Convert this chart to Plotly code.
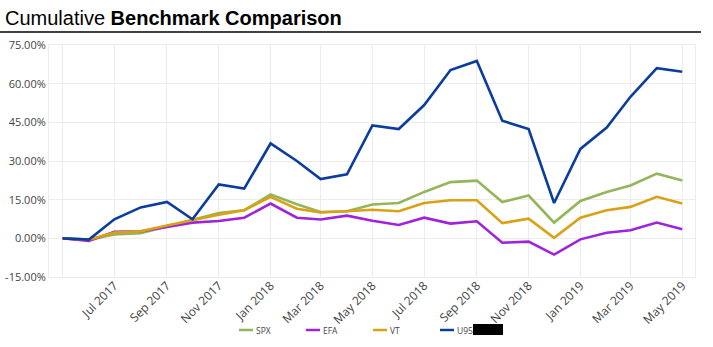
import plotly.graph_objects as go

dates = ["2017-05-01", "2017-06-01", "2017-07-01", "2017-08-01", "2017-09-01", "2017-10-01",
         "2017-11-01", "2017-12-01", "2018-01-01", "2018-02-01", "2018-03-01", "2018-04-01",
         "2018-05-01", "2018-06-01", "2018-07-01", "2018-08-01", "2018-09-01", "2018-10-01",
         "2018-11-01", "2018-12-01", "2019-01-01", "2019-02-01", "2019-03-01", "2019-04-01",
         "2019-05-01"]

spx = [0, -0.5, 1.5, 2.0, 4.6, 7.2, 9.8, 10.9, 17.0, 13.2, 10.2, 10.5, 13.1, 13.7, 18.0,
       21.8, 22.4, 14.1, 16.6, 6.1, 14.5, 18.0, 20.5, 25.1, 22.4]
efa = [0, -1.0, 2.5, 2.7, 4.4, 6.1, 6.7, 8.0, 13.5, 8.0, 7.3, 8.8, 6.8, 5.2, 8.0,
       5.7, 6.6, -1.7, -1.3, -6.3, -0.4, 2.2, 3.1, 6.1, 3.5]
vt = [0, -0.5, 2.2, 2.7, 5.0, 7.2, 9.2, 10.9, 16.1, 11.5, 10.0, 10.5, 11.1, 10.5, 13.7,
      14.8, 14.8, 5.9, 7.6, 0.2, 8.0, 10.9, 12.2, 16.1, 13.5]
u95 = [0, -0.5, 7.4, 12.0, 14.1, 7.4, 20.9, 19.3, 36.8, 30.0, 23.0, 24.8, 43.8, 42.4, 51.7,
       65.3, 68.8, 45.6, 42.4, 13.7, 34.7, 43.0, 54.9, 66.0, 64.6]

series_names = ["SPX", "EFA", "VT", "U95"]
series_colors = ["#94b55a", "#a023dc", "#d9a114", "#0b3d9e"]

tick_vals = ["2017-05-01", "2017-07-01", "2017-09-01", "2017-11-01", "2018-01-01", "2018-03-01",
             "2018-05-01", "2018-07-01", "2018-09-01", "2018-11-01", "2019-01-01", "2019-03-01",
             "2019-05-01"]
tick_text = ["", "Jul 2017", "Sep 2017", "Nov 2017", "Jan 2018", "Mar 2018", "May 2018",
             "Jul 2018", "Sep 2018", "Nov 2018", "Jan 2019", "Mar 2019", "May 2019"]
y_ticks = [-15, 0, 15, 30, 45, 60, 75]

W, H = 713, 347
L, R, T, B = 49, 18, 45, 70
pw, ph = W - L - R, H - T - B

def px_x(p):
    return (p - L) / pw

def px_y(p):
    return (H - B - p) / ph

fig = go.Figure()
for name, vals, col in zip(series_names, [spx, efa, vt, u95], series_colors):
    fig.add_trace(go.Scatter(x=dates, y=vals, mode="lines", name=name,
                             line=dict(color=col, width=2.6), showlegend=False))

# custom legend (short line swatches + labels)
legend_starts = [239, 306, 373, 440]
shapes = [
    dict(type="line", xref="paper", yref="paper", x0=px_x(0), x1=px_x(701),
         y0=px_y(32), y1=px_y(32), line=dict(color="#000", width=1.5)),
    dict(type="rect", xref="paper", yref="paper", x0=px_x(473), x1=px_x(503),
         y0=px_y(335), y1=px_y(324), fillcolor="#000", line=dict(width=0)),
]
annotations = []
for name, col, sx in zip(series_names, series_colors, legend_starts):
    shapes.append(dict(type="line", xref="paper", yref="paper", x0=px_x(sx), x1=px_x(sx + 14),
                       y0=px_y(330), y1=px_y(330), line=dict(color=col, width=2.5)))
    annotations.append(dict(text=name, xref="paper", yref="paper", x=px_x(sx + 15),
                            y=px_y(330), xanchor="left", yanchor="middle", showarrow=False,
                            font=dict(size=8.5, color="#444", family="Open Sans")))

fig.update_layout(
    width=W, height=H,
    margin=dict(l=L, r=R, t=T, b=B),
    paper_bgcolor="white", plot_bgcolor="white",
    showlegend=False,
    title=dict(text="Cumulative <b>Benchmark Comparison</b>", x=5 / W, xanchor="left",
               y=1 - 18 / H, yanchor="middle",
               font=dict(family="Liberation Sans, Arial", size=20, color="#000")),
    font=dict(family="Open Sans", color="#444"),
    xaxis=dict(type="date", range=["2017-04-15", "2019-05-16"], tickvals=tick_vals,
               ticktext=tick_text, tickangle=-45, showgrid=True, gridcolor="#ececec",
               gridwidth=1, showline=True, mirror=True, linecolor="#ececec", linewidth=1,
               zeroline=False, tickfont=dict(size=12, color="#444"), ticks="",
               ticklabelstandoff=-4, automargin=False),
    yaxis=dict(range=[-15, 75], tickvals=y_ticks,
               ticktext=[f"{v:.2f}%" for v in y_ticks], showgrid=True, gridcolor="#ececec",
               gridwidth=1, showline=True, mirror=True, linecolor="#ececec", linewidth=1,
               zeroline=False, tickfont=dict(size=11, color="#444"), ticks="",
               automargin=False),
    shapes=shapes,
    annotations=annotations,
)

fig.write_html("out.html")
